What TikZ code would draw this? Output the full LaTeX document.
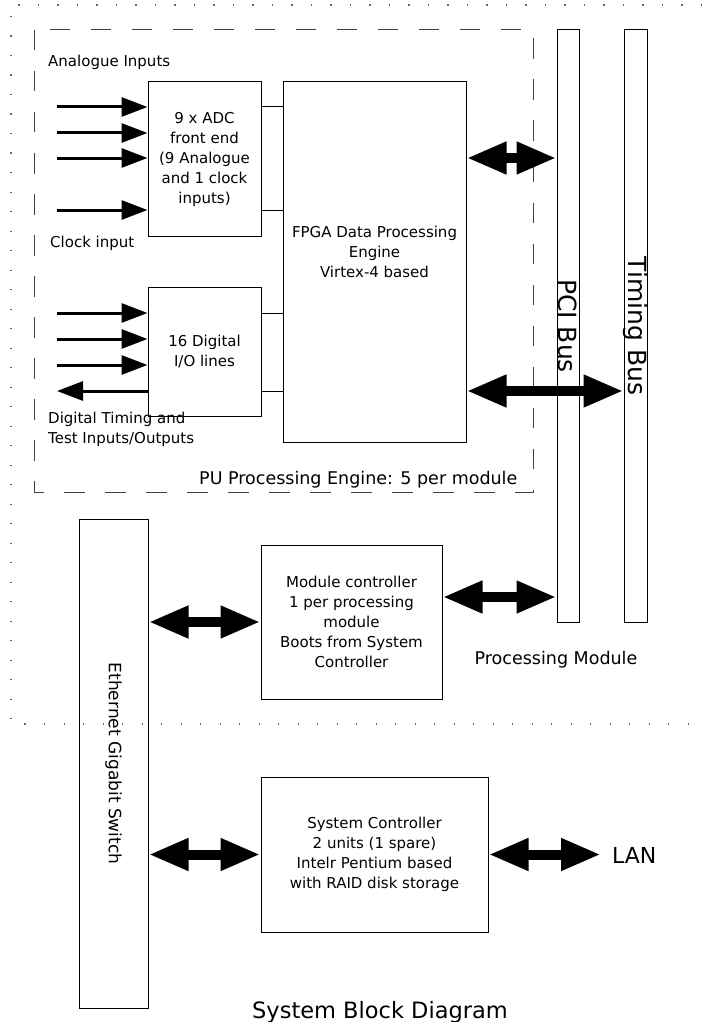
\documentclass[tikz,border=0pt]{standalone}
\usepackage{fontspec}
\setmainfont{DejaVu Sans}
\usetikzlibrary{arrows.meta,positioning}

\newcommand{\boxfont}{\fontsize{15}{20}\selectfont}
\newcommand{\capfont}{\fontsize{17.5}{21}\selectfont}
\newcommand{\busfont}{\fontsize{25}{30}\selectfont}

\tikzset{
	blk/.style={draw, line width=1pt, inner sep=0pt, align=center, font=\boxfont},
	txt/.style={draw=none, fill=none, inner sep=0pt, font=\boxfont},
	sig/.style={line width=3pt, -{Triangle[length=26pt,width=19pt]}},
	bigarrow/.style={line width=10pt, {Triangle[length=40pt,width=30pt]}-{Triangle[length=40pt,width=30pt]}},
	wire/.style={line width=1pt},
	peframe/.style={line width=1pt, black!75, dash pattern=on 20.5pt off 20.5pt},
	modframe/.style={line width=1.2pt, black!60, dash pattern=on 1.2pt off 18.3pt},
}

\begin{document}
\begin{tikzpicture}[x=1pt,y=-1pt]
	\useasboundingbox (0,0) rectangle (702,1022);
	
	% processing module and PU engine outlines
	\draw[modframe] (702,5) -- (11,5) -- (11,724) -- (702,724);
	\draw[peframe] (34,30) rectangle (533,492);
	
	\node[blk, minimum width=113pt, minimum height=154pt] (adc) at (204.5,159) {9 x ADC\\front end\\(9 Analogue\\and 1 clock\\inputs)};
	\node[blk, minimum width=113pt, minimum height=129pt] (dig) at (204.5,351.5) {16 Digital\\I/O lines};
	\node[blk, minimum width=183pt, minimum height=360pt] (fpga) at (374.5,262) {};
	\node[txt, align=center] (fpgatxt) at (374.5,252) {FPGA Data Processing\\Engine\\Virtex-4 based};
	
	\node[blk, minimum width=22pt, minimum height=592pt] (pci) at (568,326) {};
	\node[txt, font=\busfont, rotate=-90] (pcitxt) at (pci) {PCI Bus};
	\node[blk, minimum width=23pt, minimum height=592pt] (tim) at (635.5,326) {};
	\node[txt, font=\busfont, rotate=-90] (timtxt) at (tim) {Timing Bus};
	
	\node[blk, minimum width=181pt, minimum height=154pt] (mod) at (351.5,622) {Module controller\\1 per processing\\module\\Boots from System\\Controller};
	\node[blk, minimum width=227pt, minimum height=155pt] (sys) at (374.5,854.5) {System Controller\\2 units (1 spare)\\Intelr Pentium based\\with RAID disk storage};
	\node[blk, minimum width=69pt, minimum height=489pt] (eth) at (113.5,763.5) {};
	\node[txt, font=\fontsize{17}{20}\selectfont, rotate=-90] (ethtxt) at (eth) {Ethernet Gigabit Switch};
	
	% labels
	\node[txt, anchor=base west] (anain) at (48,67) {Analogue Inputs};
	\node[txt, anchor=base west] (clkin) at (50,247) {Clock input};
	\node[txt, anchor=base west, align=left] (digio) at (48,443) {Digital Timing and\\Test Inputs/Outputs};
	\node[txt, anchor=base west, font=\capfont] (pelbl) at (199,484) {PU Processing Engine: 5 per module};
	\node[txt, anchor=base, font=\capfont] (pmlbl) at (556,664) {Processing Module};
	\node[txt, anchor=base west, font=\fontsize{22}{26}\selectfont] (lan) at (612,863) {LAN};
	\node[txt, anchor=base, font=\fontsize{22.5}{27}\selectfont] (title) at (380,1018) {System Block Diagram};
	
	% analogue and digital lines
	\foreach \y in {107,133,158,210}{
		\coordinate (a\y) at (57,\y);
		\draw[sig] (a\y) -- (a\y -| adc.west);
	}
	\foreach \y in {313,339,365}{
		\coordinate (d\y) at (57,\y);
		\draw[sig] (d\y) -- (d\y -| dig.west);
	}
	\coordinate (d391) at (57,391);
	\draw[sig] (d391 -| dig.west) -- (d391);
	
	\draw[wire] (adc.east |- a107) -- (fpga.west |- a107);
	\draw[wire] (adc.east |- a210) -- (fpga.west |- a210);
	\draw[wire] (dig.east |- d313) -- (fpga.west |- d313);
	\draw[wire] (dig.east |- d391) -- (fpga.west |- d391);
	
	% bus links
	\coordinate (pcilink) at (0,158);
	\coordinate (modlink) at (0,597);
	\coordinate (lanend) at (601,854.5);
	\draw[bigarrow] (fpga.east |- pcilink) -- (pci.west |- pcilink);
	\draw[bigarrow] (fpga.east |- d391) -- (tim.west |- d391);
	\draw[bigarrow] (mod.east |- modlink) -- (pci.west |- modlink);
	\draw[bigarrow] (eth.east |- mod.west) -- (mod.west);
	\draw[bigarrow] (eth.east |- sys.west) -- (sys.west);
	\draw[bigarrow] (sys.east) -- (lanend);
\end{tikzpicture}
\end{document}
